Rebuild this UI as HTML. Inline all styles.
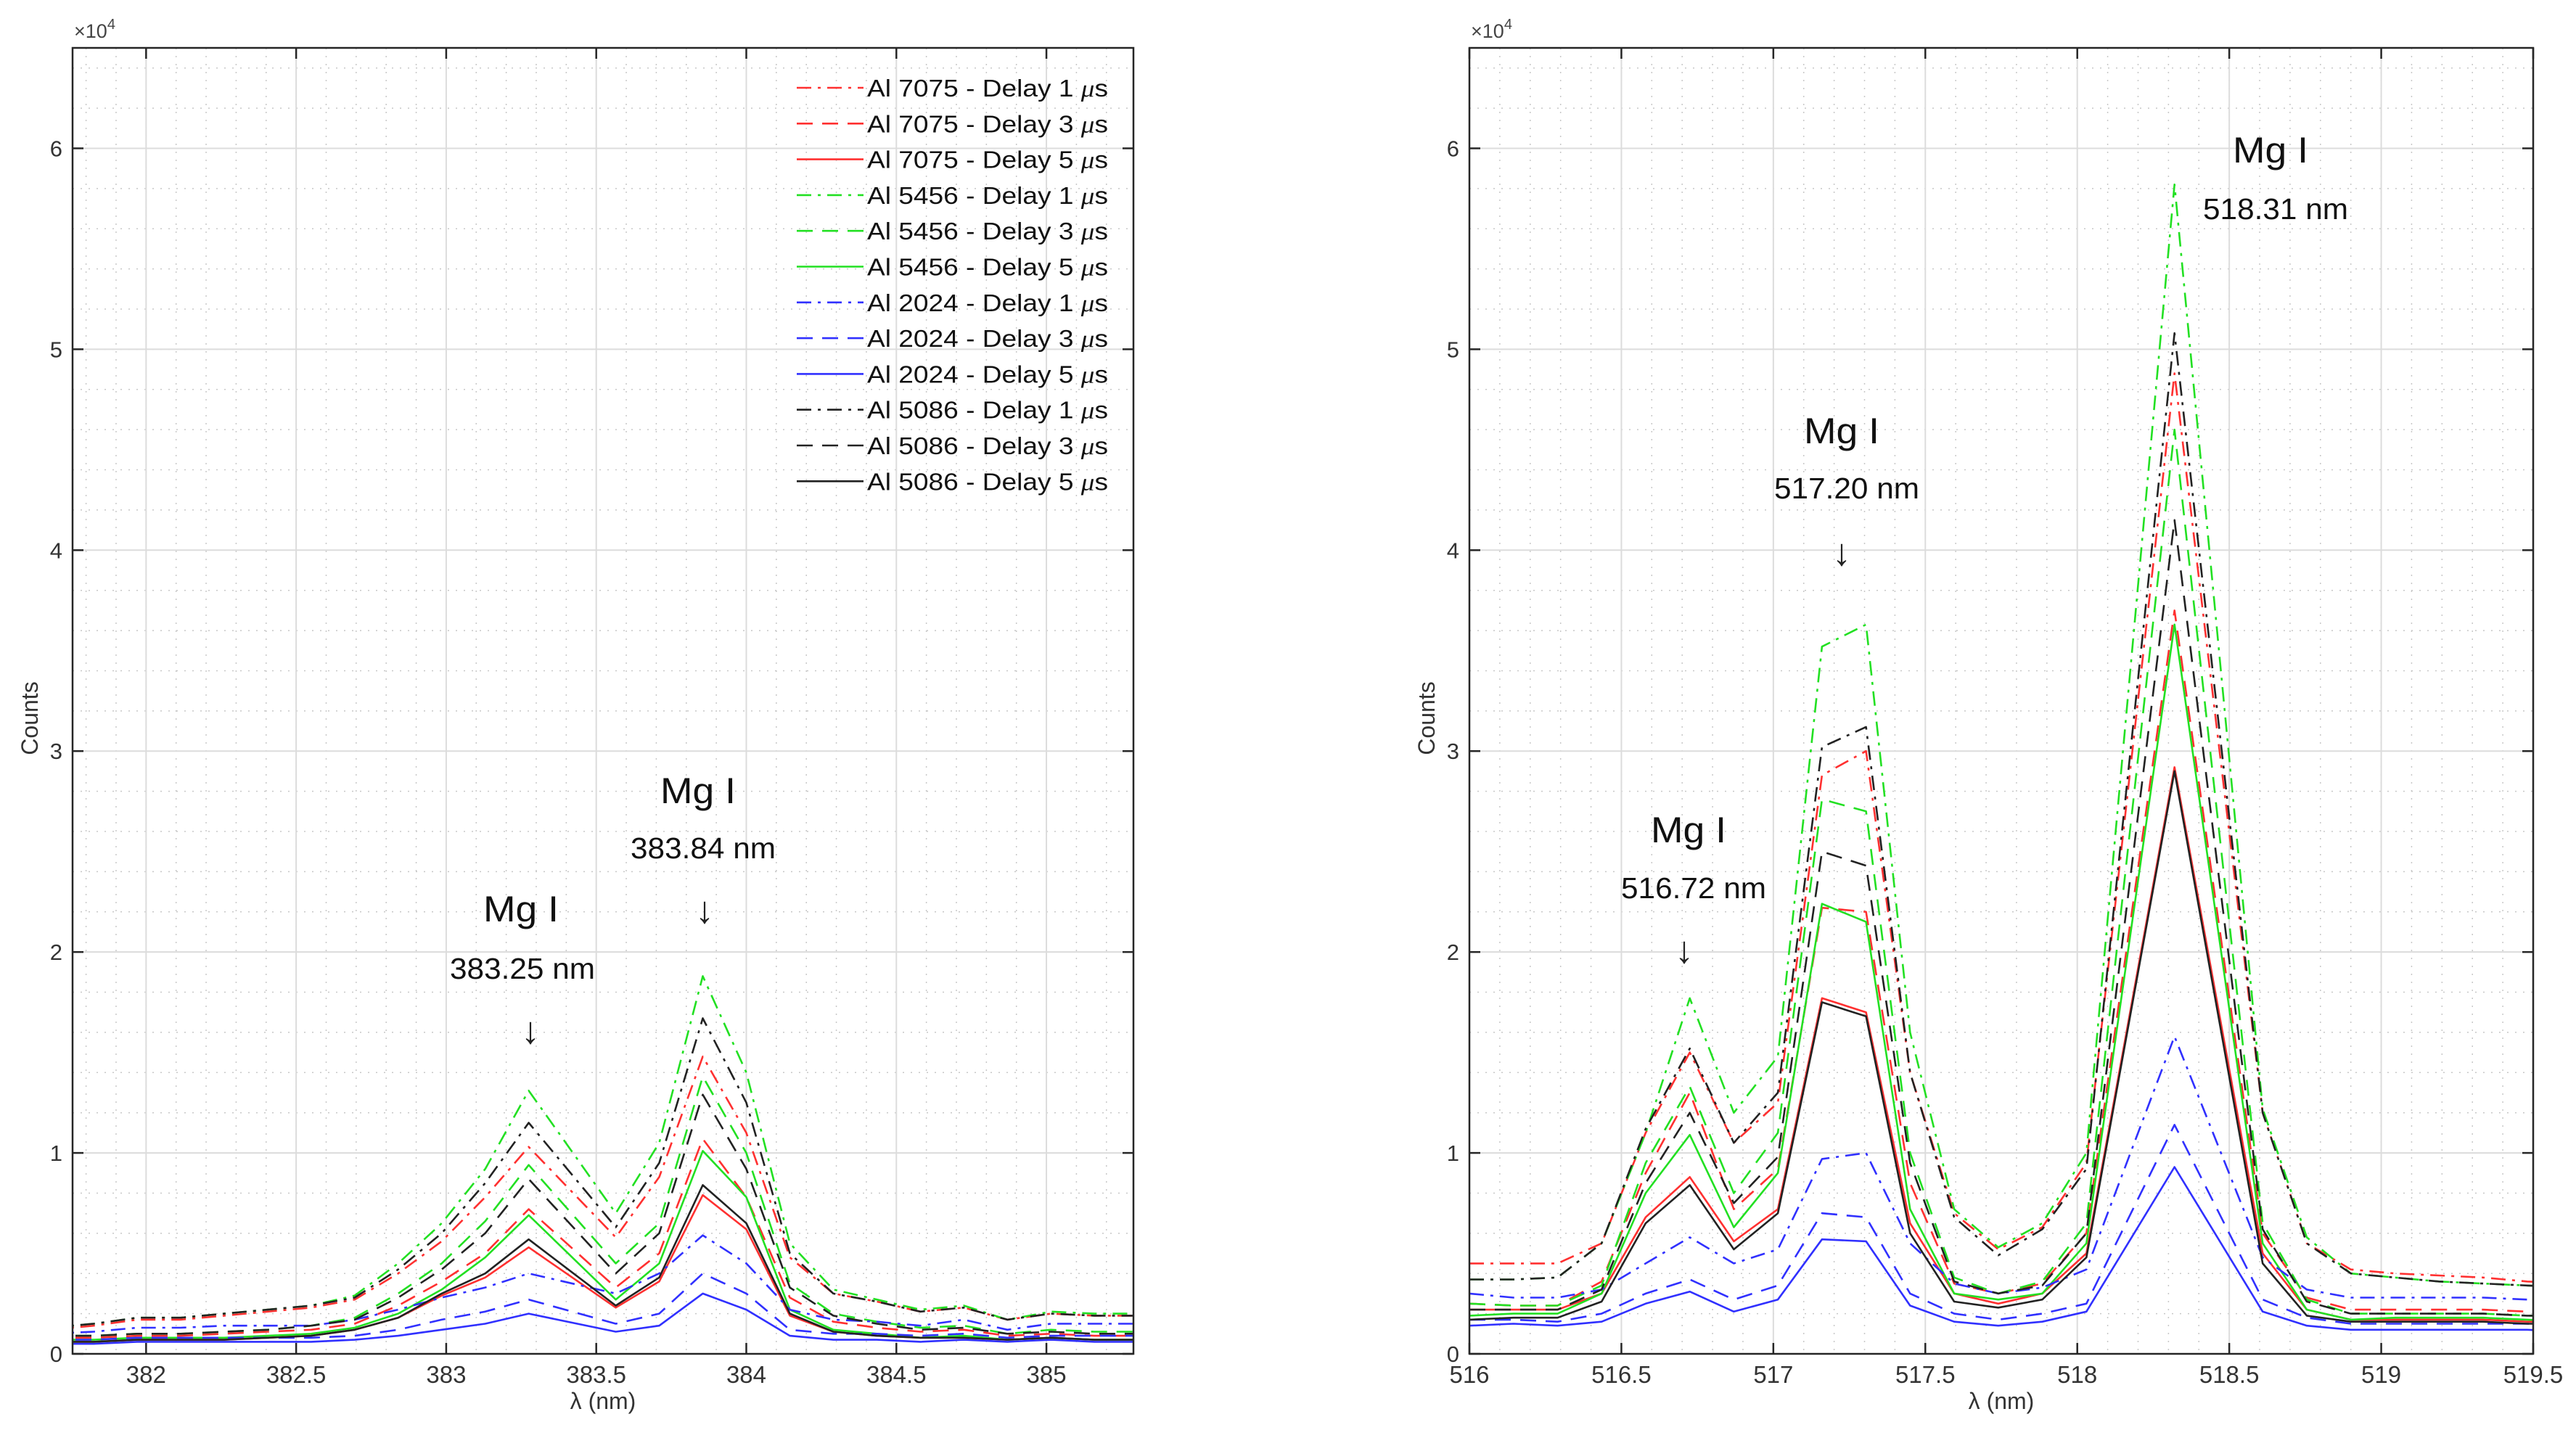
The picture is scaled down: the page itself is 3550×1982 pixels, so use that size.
<!DOCTYPE html>
<html><head><meta charset="utf-8"><style>
html,body{margin:0;padding:0;background:#fff;}
svg{display:block;font-family:"Liberation Sans",sans-serif;}
</style></head><body>
<svg id="chart" width="3550" height="1982" viewBox="0 0 3550 1982" xmlns="http://www.w3.org/2000/svg"></svg>
<script>
// ---- data (counts ×1e4) ----
const seriesNames = ["Al 7075 - Delay 1","Al 7075 - Delay 3","Al 7075 - Delay 5","Al 5456 - Delay 1","Al 5456 - Delay 3","Al 5456 - Delay 5","Al 2024 - Delay 1","Al 2024 - Delay 3","Al 2024 - Delay 5","Al 5086 - Delay 1","Al 5086 - Delay 3","Al 5086 - Delay 5"];
const seriesColors = ["#ff3030","#ff3030","#ff3030","#22e022","#22e022","#22e022","#3030ff","#3030ff","#3030ff","#222222","#222222","#222222"];
const seriesStyles = ["dashdot","dashed","solid","dashdot","dashed","solid","dashdot","dashed","solid","dashdot","dashed","solid"];

const leftX = [381.68,381.825,381.97,382.115,382.26,382.405,382.55,382.695,382.84,382.985,383.13,383.275,383.565,383.71,383.855,384.0,384.145,384.29,384.435,384.58,384.725,384.87,385.015,385.16,385.305];
const leftR1 = [0.12,0.14,0.17,0.17,0.19,0.21,0.23,0.27,0.4,0.56,0.78,1.03,0.58,0.88,1.48,1.1,0.48,0.3,0.26,0.21,0.23,0.17,0.2,0.19,0.19];
const leftR3 = [0.08,0.08,0.09,0.09,0.1,0.11,0.12,0.15,0.24,0.36,0.5,0.72,0.33,0.5,1.07,0.78,0.28,0.16,0.13,0.11,0.12,0.09,0.1,0.09,0.09];
const leftR5 = [0.06,0.06,0.07,0.07,0.07,0.08,0.09,0.12,0.18,0.29,0.38,0.53,0.23,0.36,0.79,0.62,0.19,0.11,0.09,0.08,0.08,0.07,0.08,0.07,0.07];
const leftG1 = [0.13,0.15,0.18,0.18,0.2,0.22,0.24,0.29,0.45,0.65,0.92,1.31,0.70,1.05,1.88,1.40,0.55,0.32,0.27,0.22,0.24,0.17,0.21,0.20,0.20];
const leftG3 = [0.09,0.09,0.1,0.1,0.11,0.12,0.14,0.18,0.3,0.45,0.66,0.94,0.45,0.65,1.38,1.0,0.35,0.2,0.16,0.13,0.14,0.1,0.12,0.11,0.11];
const leftG5 = [0.07,0.07,0.08,0.08,0.08,0.09,0.1,0.13,0.2,0.32,0.48,0.69,0.27,0.45,1.01,0.78,0.22,0.12,0.1,0.08,0.09,0.07,0.08,0.07,0.07];
const leftB1 = [0.1,0.11,0.13,0.13,0.14,0.14,0.14,0.17,0.22,0.28,0.33,0.40,0.3,0.4,0.59,0.45,0.22,0.17,0.16,0.14,0.17,0.12,0.15,0.15,0.15];
const leftB3 = [0.07,0.07,0.08,0.08,0.08,0.08,0.08,0.09,0.12,0.17,0.21,0.27,0.15,0.2,0.40,0.3,0.12,0.1,0.1,0.09,0.1,0.08,0.09,0.09,0.09];
const leftB5 = [0.05,0.05,0.06,0.06,0.06,0.06,0.06,0.07,0.09,0.12,0.15,0.20,0.11,0.14,0.30,0.22,0.09,0.07,0.07,0.06,0.07,0.06,0.07,0.06,0.06];
const leftK1 = [0.13,0.15,0.18,0.18,0.2,0.22,0.24,0.28,0.42,0.6,0.85,1.15,0.63,0.95,1.67,1.25,0.5,0.3,0.26,0.21,0.23,0.17,0.2,0.19,0.19];
const leftK3 = [0.09,0.09,0.1,0.1,0.11,0.12,0.14,0.17,0.28,0.42,0.6,0.87,0.4,0.6,1.29,0.92,0.33,0.19,0.15,0.12,0.13,0.1,0.11,0.1,0.1];
const leftK5 = [0.06,0.06,0.07,0.07,0.07,0.08,0.09,0.12,0.18,0.3,0.4,0.57,0.24,0.38,0.84,0.65,0.2,0.11,0.09,0.08,0.08,0.07,0.08,0.07,0.07];

const rightX = [516.0,516.145,516.29,516.435,516.58,516.725,516.87,517.015,517.16,517.305,517.45,517.595,517.74,517.885,518.03,518.32,518.61,518.755,518.9,519.045,519.19,519.335,519.48,519.625];
const rightR1 = [0.45,0.45,0.45,0.55,1.1,1.5,1.05,1.25,2.88,3.0,1.4,0.7,0.52,0.63,0.95,4.88,1.2,0.55,0.42,0.40,0.39,0.38,0.36,0.35];
const rightR3 = [0.25,0.24,0.24,0.36,0.9,1.3,0.72,0.92,2.22,2.2,0.85,0.35,0.3,0.35,0.6,3.7,0.6,0.28,0.22,0.22,0.22,0.22,0.21,0.21];
const rightR5 = [0.22,0.22,0.22,0.30,0.68,0.88,0.56,0.72,1.77,1.7,0.65,0.3,0.25,0.3,0.5,2.92,0.5,0.22,0.17,0.17,0.17,0.17,0.16,0.16];
const rightG1 = [0.37,0.37,0.38,0.55,1.1,1.77,1.2,1.48,3.52,3.63,1.6,0.72,0.53,0.65,1.0,5.82,1.22,0.58,0.40,0.38,0.36,0.35,0.34,0.33];
const rightG3 = [0.25,0.24,0.24,0.34,0.95,1.33,0.8,1.1,2.76,2.7,1.0,0.38,0.3,0.36,0.65,4.6,0.65,0.27,0.2,0.2,0.2,0.2,0.19,0.19];
const rightG5 = [0.19,0.2,0.2,0.3,0.8,1.09,0.63,0.9,2.24,2.15,0.72,0.3,0.27,0.3,0.55,3.63,0.55,0.22,0.17,0.18,0.18,0.18,0.17,0.16];
const rightB1 = [0.30,0.28,0.28,0.32,0.45,0.58,0.45,0.52,0.97,1.0,0.55,0.35,0.3,0.33,0.42,1.58,0.48,0.32,0.28,0.28,0.28,0.28,0.27,0.27];
const rightB3 = [0.17,0.17,0.16,0.2,0.3,0.37,0.27,0.34,0.7,0.68,0.3,0.2,0.17,0.2,0.25,1.14,0.27,0.18,0.15,0.15,0.15,0.15,0.15,0.14];
const rightB5 = [0.14,0.15,0.14,0.16,0.25,0.31,0.21,0.27,0.57,0.56,0.24,0.16,0.14,0.16,0.21,0.93,0.21,0.14,0.12,0.12,0.12,0.12,0.12,0.11];
const rightK1 = [0.37,0.37,0.38,0.55,1.12,1.52,1.05,1.3,3.02,3.12,1.4,0.68,0.49,0.62,0.92,5.08,1.2,0.55,0.40,0.38,0.36,0.35,0.34,0.33];
const rightK3 = [0.22,0.22,0.22,0.32,0.85,1.2,0.75,0.98,2.5,2.43,0.95,0.36,0.3,0.34,0.6,4.15,0.62,0.26,0.2,0.2,0.2,0.2,0.19,0.19];
const rightK5 = [0.17,0.18,0.18,0.26,0.65,0.84,0.52,0.7,1.75,1.68,0.6,0.26,0.23,0.27,0.48,2.9,0.45,0.19,0.16,0.16,0.16,0.16,0.15,0.15];

const leftXTicks = [382,382.5,383,383.5,384,384.5,385];
const leftXTickLabels = ["382","382.5","383","383.5","384","384.5","385"];
const rightXTicks = [516,516.5,517,517.5,518,518.5,519,519.5];
const rightXTickLabels = ["516","516.5","517","517.5","518","518.5","519","519.5"];
const yTicks = [0,1,2,3,4,5,6];
const yTickLabels = ["0","1","2","3","4","5","6"];

const NS = "http://www.w3.org/2000/svg";
const svg = document.getElementById("chart");
function mk(tag, attrs, parent){const e=document.createElementNS(NS,tag);for(const k in attrs)e.setAttribute(k,attrs[k]);(parent||svg).appendChild(e);return e;}
const dashes = {dashdot:"20,9,4,9", dashed:"22,13", solid:"none"};

function drawPanel(name, px0, px1, xmin, xmax, xs, data, xticks, xlabels){
  const py0 = 66, py1 = 1866, ymin = 0, ymax = 6.5;
  const X = v => px0 + (v - xmin) / (xmax - xmin) * (px1 - px0);
  const Y = v => py1 - (v - ymin) / (ymax - ymin) * (py1 - py0);
  const g = mk("g", {});
  
  
  const clipId = name + "-clip";
  const cp = mk("clipPath", {id: clipId}, g);
  mk("rect", {x:px0, y:py0, width:px1-px0, height:py1-py0}, cp);
  const grid = mk("g", {}, g);
  
  
  for (let v = Math.ceil(xmin*10)/10; v <= xmax + 1e-9; v += 0.1) {
    const x = X(v);
    mk("line", {x1:x, x2:x, y1:py0, y2:py1, stroke:"#c8c8c8", "stroke-width":1.5, "stroke-dasharray":"2,9"}, grid);
  }
  for (let v = 0; v <= ymax + 1e-9; v += 0.2) {
    const y = Y(v);
    mk("line", {x1:px0, x2:px1, y1:y, y2:y, stroke:"#c8c8c8", "stroke-width":1.5, "stroke-dasharray":"2,9"}, grid);
  }
  xticks.forEach(v => { const x = X(v); mk("line", {x1:x, x2:x, y1:py0, y2:py1, stroke:"#dcdcdc", "stroke-width":2}, grid); });
  yTicks.forEach(v => { const y = Y(v); mk("line", {x1:px0, x2:px1, y1:y, y2:y, stroke:"#dcdcdc", "stroke-width":2}, grid); });
  const lines = mk("g", {"clip-path":"url(#"+clipId+")"}, g);
  data.forEach((arr, i) => {
    const d = arr.map((v, k) => (k ? "L" : "M") + X(xs[k]).toFixed(1) + "," + Y(v).toFixed(1)).join(" ");
    const p = mk("path", {d:d, fill:"none", stroke:seriesColors[i], "stroke-width":2.6, "stroke-linejoin":"round"}, lines);
    if (seriesStyles[i] !== "solid") p.setAttribute("stroke-dasharray", dashes[seriesStyles[i]]);
    
    
  });
  mk("rect", {x:px0, y:py0, width:px1-px0, height:py1-py0, fill:"none", stroke:"#262626", "stroke-width":2.5}, g);
  const xa = mk("g", {}, g);
  
  
  xticks.forEach((v, i) => {
    const x = X(v);
    mk("line", {x1:x, x2:x, y1:py1, y2:py1-15, stroke:"#262626", "stroke-width":2.5}, xa);
    mk("line", {x1:x, x2:x, y1:py0, y2:py0+15, stroke:"#262626", "stroke-width":2.5}, xa);
    const t = mk("text", {x:x, y:py1+40, "text-anchor":"middle", "font-size":33, fill:"#333"}, xa);
    t.textContent = xlabels[i];
  });
  const ya = mk("g", {}, g);
  
  
  yTicks.forEach((v, i) => {
    const y = Y(v);
    mk("line", {x1:px0, x2:px0+15, y1:y, y2:y, stroke:"#262626", "stroke-width":2.5}, ya);
    mk("line", {x1:px1, x2:px1-15, y1:y, y2:y, stroke:"#262626", "stroke-width":2.5}, ya);
    const t = mk("text", {x:px0-14, y:y+11, "text-anchor":"end", "font-size":31, fill:"#333"}, ya);
    t.textContent = yTickLabels[i];
  });
  const ex = mk("text", {x:px0+2, y:py0-14, "font-size":27, fill:"#444"}, g);
  
  
  ex.innerHTML = '×10<tspan dy="-12" font-size="20">4</tspan>';
  const xt = mk("text", {x:(px0+px1)/2, y:1942, "text-anchor":"middle", "font-size":32, fill:"#333"}, g);
  
  
  xt.textContent = "λ (nm)";
  const yt = mk("text", {x:0, y:0, "text-anchor":"middle", "font-size":32, fill:"#333", transform:"translate("+(px0-48)+",990) rotate(-90)"}, g);
  
  
  yt.textContent = "Counts";
  return g;
}

drawPanel("left", 100, 1562, 381.755, 385.29, leftX,
  [leftR1, leftR3, leftR5, leftG1, leftG3, leftG5, leftB1, leftB3, leftB5, leftK1, leftK3, leftK5],
  leftXTicks, leftXTickLabels);
drawPanel("right", 2025, 3491, 516, 519.5, rightX,
  [rightR1, rightR3, rightR5, rightG1, rightG3, rightG5, rightB1, rightB3, rightB5, rightK1, rightK3, rightK5],
  rightXTicks, rightXTickLabels);

// legend
const leg = mk("g", {});


seriesNames.forEach((n, i) => {
  const y = 121 + i * 49.3;
  const e = mk("g", {}, leg);
  
  
  const l = mk("line", {x1:1098, x2:1190, y1:y, y2:y, stroke:seriesColors[i], "stroke-width":2.6}, e);
  if (seriesStyles[i] !== "solid") l.setAttribute("stroke-dasharray", dashes[seriesStyles[i]]);
  const t = mk("text", {x:1195, y:y+12, "font-size":33, fill:"#111", textLength:332, lengthAdjust:"spacingAndGlyphs"}, e);
  t.innerHTML = n + ' <tspan font-family="Liberation Serif, serif" font-style="italic">μ</tspan>s';
});

// annotations
const ann = [
  ["Mg I","383.25 nm",718,1252,720,1334,731,1420],
  ["Mg I","383.84 nm",962,1089,969,1168,971,1254],
  ["Mg I","516.72 nm",2327,1143,2334,1223,2321,1309],
  ["Mg I","517.20 nm",2538,593,2545,672,2538,761],
  ["Mg I","518.31 nm",3129,206,3136,287,null,null]
];
ann.forEach(a => {
  const g = mk("g", {});
  
  
  const t1 = mk("text", {x:a[2], y:a[3]+18, "text-anchor":"middle", "font-size":50, fill:"#111", textLength:104, lengthAdjust:"spacingAndGlyphs"}, g); t1.textContent = a[0];
  const t2 = mk("text", {x:a[4], y:a[5]+15, "text-anchor":"middle", "font-size":41, fill:"#111", textLength:200, lengthAdjust:"spacingAndGlyphs"}, g); t2.textContent = a[1];
  if (a[6] !== null) { const t3 = mk("text", {x:a[6], y:a[7]+18, "text-anchor":"middle", "font-size":52, fill:"#222"}, g); t3.textContent = "↓"; }
});
</script>
</body></html>
